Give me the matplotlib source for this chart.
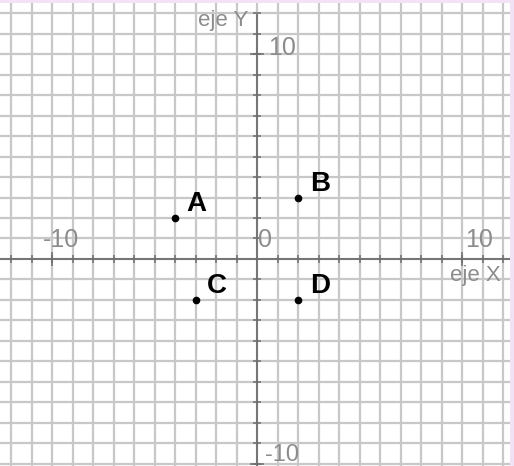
import numpy as np
import matplotlib
matplotlib.use("Agg")
import matplotlib.pyplot as plt

# points on the plane
point_names = ["A", "B", "C", "D"]
point_x = [-4, 2, -3, 2]
point_y = [2, 3, -2, -2]

# axis numbers shown
x_tick_vals = [-10, 0, 10]
x_tick_text = ["-10", "0", "10"]
y_tick_vals = [10, -10]
y_tick_text = ["10", "-10"]

W, H = 514, 466
fig = plt.figure(figsize=(W / 100, H / 100), dpi=100)
fig.patch.set_facecolor("#f1e3f5")
# leave a thin pink strip on top and right
ax = fig.add_axes([0, 0, 510 / W, 463 / H])
ax.set_facecolor("white")
for s in ax.spines.values():
    s.set_visible(False)

ax.set_xlim(-12.54, 12.34)
ax.set_ylim(-10.1, 12.49)

# grid
for g in range(-12, 13):
    ax.axvline(g, color="#c8c8c8", lw=1.6, zorder=1)
for g in range(-10, 13):
    ax.axhline(g, color="#c8c8c8", lw=1.6, zorder=1)

axis_col = "#6e6e6e"
ax.axhline(0, color=axis_col, lw=1.3, zorder=2)
ax.plot([0, 0], [-10.1, 11.9], color=axis_col, lw=1.3, zorder=2)

# small tick marks on the axes
xt = [v for v in range(-12, 13) if v != 0]
ax.plot(xt, np.zeros(len(xt)), "|", color=axis_col, ms=5.5, mew=1.1, zorder=3)
yt = [v for v in range(-10, 13) if v != 0]
ax.plot(np.zeros(len(yt)), yt, "_", color=axis_col, ms=5.5, mew=1.1, zorder=3)
ax.plot(x_tick_vals[::2], [0, 0], "|", color=axis_col, ms=10, mew=1.1, zorder=3)
ax.plot([0, 0], y_tick_vals, "_", color=axis_col, ms=10, mew=1.1, zorder=3)

lab_col = "#8c8c8c"
fnt = "Liberation Sans"
x_tick_pos = [-10.44, 0.05, 10.15]
for xv, tx in zip(x_tick_pos, x_tick_text):
    ax.text(xv, 0.93, tx, ha="left", va="center", color=lab_col,
            fontsize=18, family=fnt)
ax.text(0.54, 10.29, y_tick_text[0], ha="left", va="center", color=lab_col,
        fontsize=18, family=fnt)
ax.text(0.39, -10.08, y_tick_text[1], ha="left", va="bottom", color=lab_col,
        fontsize=17, family=fnt)

ax.text(-0.44, 11.35, "eje Y", ha="right", va="baseline", color=lab_col,
        fontsize=16, family=fnt)
ax.text(9.41, -0.3, "eje X", ha="left", va="top", color=lab_col,
        fontsize=16, family=fnt)

# points and their names
ax.plot(point_x, point_y, "o", color="black", ms=4.5, zorder=4)
for n, x, y in zip(point_names, point_x, point_y):
    ax.annotate(n, (x, y), xytext=(8.4, 4.8), textcoords="offset points",
                fontsize=20, fontweight="bold", family=fnt, color="black",
                ha="left", va="baseline", zorder=5)

ax.set_xticks([])
ax.set_yticks([])

fig.savefig("out.png", dpi=100, facecolor=fig.get_facecolor())
